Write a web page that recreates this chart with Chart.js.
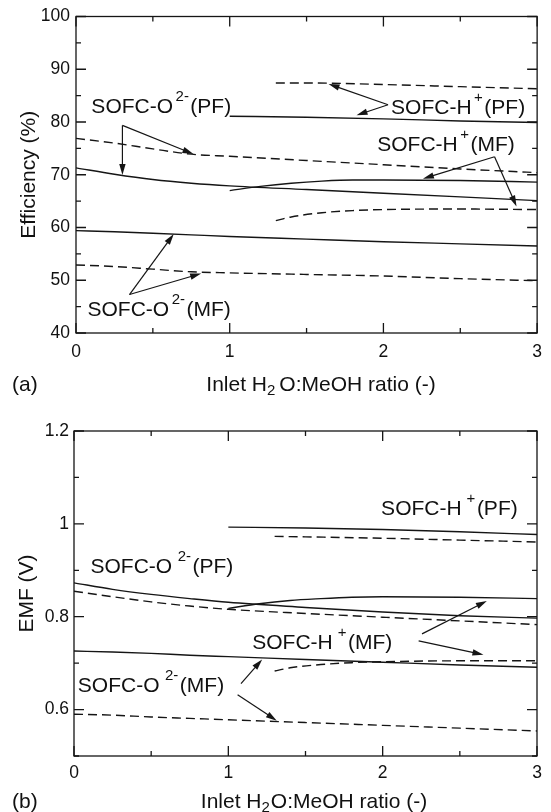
<!DOCTYPE html>
<html><head><meta charset="utf-8">
<script src="https://cdn.jsdelivr.net/npm/chart.js@4/dist/chart.umd.min.js"></script>
<style>
html,body{margin:0;padding:0;background:#fff;}
#wrap{position:relative;width:551px;height:812px;overflow:hidden;}
#ca{position:absolute;left:0;top:0;}
#cb{position:absolute;left:0;top:400px;}
</style></head><body>
<div id="wrap">
<canvas id="ca" width="551" height="400"></canvas>
<canvas id="cb" width="551" height="412"></canvas>
</div>
<script>
// ---------- DATA ----------
// x (Inlet H2O:MeOH ratio) grids
const xO2 = [0, 0.25, 0.5, 0.75, 1, 1.5, 2, 2.5, 3];
const xH_PF_solid = [1, 1.5, 2, 2.5, 3];
const xH_PF_dash = [1.3, 1.5, 2, 2.5, 3];
const xH_MF_solid = [1, 1.2, 1.4, 1.6, 1.8, 2, 2.5, 3];
const xH_MF_dash = [1.3, 1.4, 1.6, 1.8, 2, 2.5, 3];

// (a) Efficiency (%)
const effO2_PF_solid = [71.3, 70.1, 69.1, 68.4, 67.9, 67.2, 66.5, 65.8, 65.1];
const effO2_PF_dash  = [76.9, 76.0, 74.9, 73.9, 73.5, 72.7, 71.9, 71.1, 70.4];
const effO2_MF_solid = [59.4, 59.2, 58.9, 58.6, 58.3, 57.8, 57.3, 56.9, 56.5];
const effO2_MF_dash  = [52.9, 52.6, 52.1, 51.6, 51.4, 51.1, 50.8, 50.3, 49.9];
const effH_PF_solid  = [81.1, 80.9, 80.6, 80.2, 79.9];
const effH_PF_dash   = [87.4, 87.4, 87.1, 86.7, 86.3];
const effH_MF_solid  = [67.0, 67.8, 68.4, 68.8, 69.0, 69.0, 68.9, 68.6];
const effH_MF_dash   = [61.3, 62.0, 62.8, 63.2, 63.4, 63.5, 63.4];

// (b) EMF (V)
const emfO2_PF_solid = [0.873, 0.859, 0.848, 0.839, 0.831, 0.820, 0.810, 0.802, 0.797];
const emfO2_PF_dash  = [0.855, 0.843, 0.832, 0.823, 0.816, 0.807, 0.799, 0.791, 0.783];
const emfO2_MF_solid = [0.726, 0.724, 0.721, 0.717, 0.714, 0.708, 0.702, 0.696, 0.691];
const emfO2_MF_dash  = [0.590, 0.588, 0.584, 0.581, 0.578, 0.572, 0.566, 0.560, 0.554];
const emfH_PF_solid  = [0.993, 0.991, 0.988, 0.983, 0.977];
const emfH_PF_dash   = [0.973, 0.972, 0.969, 0.965, 0.961];
const emfH_MF_solid  = [0.818, 0.828, 0.835, 0.839, 0.842, 0.843, 0.842, 0.839];
const emfH_MF_dash   = [0.683, 0.690, 0.697, 0.701, 0.703, 0.705, 0.705];

// axis ranges / tick steps
const xRange = [0, 3], xStep = 0.5;
const effRange = [40, 100], effStep = 5;
const emfRange = [0.5, 1.2], emfStep = 0.1;

// annotation labels (positions in data units) and arrows
const annA = {
  labels: [
    {x: 0.10, y: 83.1, parts: [['SOFC-O'], [2.5], ['2-', 'sup'], [1.5], ['(PF)']]},
    {x: 2.05, y: 83.0, parts: [['SOFC-H'], [2.5], ['+', 'sup'], [1.5], ['(PF)']]},
    {x: 1.96, y: 76.0, parts: [['SOFC-H'], [2.5], ['+', 'sup'], [1.5], ['(MF)']]},
    {x: 0.075, y: 44.7, parts: [['SOFC-O'], [2.5], ['2-', 'sup'], [1.5], ['(MF)']]}
  ],
  arrows: [
    [[0.302, 79.35], [0.302, 69.95]], [[0.302, 79.35], [0.764, 73.92]],
    [[2.030, 83.28], [1.643, 87.21]], [[2.030, 83.28], [1.825, 81.28]],
    [[2.723, 73.42], [2.257, 69.25]], [[2.723, 73.42], [2.866, 64.0]],
    [[0.348, 47.29], [0.636, 58.76]], [[0.348, 47.29], [0.814, 51.28]]
  ]
};
const annB = {
  labels: [
    {x: 1.99, y: 1.035, parts: [['SOFC-H'], [5], ['+', 'sup'], [1.5], ['(PF)']]},
    {x: 0.107, y: 0.911, parts: [['SOFC-O'], [5.5], ['2-', 'sup'], [1.5], ['(PF)']]},
    {x: 1.155, y: 0.747, parts: [['SOFC-H'], [5], ['+', 'sup'], [1.5], ['(MF)']]},
    {x: 0.025, y: 0.654, parts: [['SOFC-O'], [5.5], ['2-', 'sup'], [1.5], ['(MF)']]}
  ],
  arrows: [
    [[2.255, 0.763], [2.675, 0.834]], [[2.233, 0.748], [2.653, 0.718]],
    [[1.082, 0.656], [1.219, 0.708]], [[1.060, 0.632], [1.314, 0.576]]
  ]
};

// ---------- STYLE ----------
const FONT = '"Liberation Sans", Arial, Helvetica, sans-serif';
const INK = '#151515';
const LINEW = 1.4;
const DASH = [9, 5];
const TXT = 21, SUP = 15, TICKF = 17.5;

function pts(xs, ys) { return xs.map((x, i) => ({x: x, y: ys[i]})); }
function ds(xs, ys, dashed) {
  return {
    data: pts(xs, ys), borderColor: INK, borderWidth: LINEW,
    borderDash: dashed ? DASH : [], pointRadius: 0, fill: false,
    cubicInterpolationMode: 'monotone', tension: 0.4
  };
}

function drawRich(ctx, x, yc, parts) {
  const base = yc + 0.358 * TXT;
  let cx = x;
  ctx.textAlign = 'left';
  ctx.textBaseline = 'alphabetic';
  for (const p of parts) {
    if (typeof p[0] === 'number') { cx += p[0]; continue; }
    if (p[1] === 'sup') {
      ctx.font = SUP + 'px ' + FONT;
      ctx.fillText(p[0], cx, base - 12);
    } else if (p[1] === 'sub') {
      ctx.font = SUP + 'px ' + FONT;
      ctx.fillText(p[0], cx, base + 4);
    } else {
      ctx.font = TXT + 'px ' + FONT;
      ctx.fillText(p[0], cx, base);
    }
    cx += ctx.measureText(p[0]).width;
  }
  return cx - x;
}
function richWidth(ctx, parts) {
  let w = 0;
  for (const p of parts) {
    if (typeof p[0] === 'number') { w += p[0]; continue; }
    ctx.font = (p[1] ? SUP : TXT) + 'px ' + FONT;
    w += ctx.measureText(p[0]).width;
  }
  return w;
}
function arrow(ctx, x1, y1, x2, y2) {
  const ang = Math.atan2(y2 - y1, x2 - x1);
  const L = 11, W = 3.2;
  ctx.beginPath(); ctx.moveTo(x1, y1);
  ctx.lineTo(x2 - Math.cos(ang) * L * 0.8, y2 - Math.sin(ang) * L * 0.8); ctx.stroke();
  ctx.beginPath();
  ctx.moveTo(x2, y2);
  ctx.lineTo(x2 - Math.cos(ang) * L - Math.sin(ang) * W, y2 - Math.sin(ang) * L + Math.cos(ang) * W);
  ctx.lineTo(x2 - Math.cos(ang) * L + Math.sin(ang) * W, y2 - Math.sin(ang) * L - Math.cos(ang) * W);
  ctx.closePath(); ctx.fill();
}

const decorPlugin = {
  id: 'decor',
  afterDatasetsDraw(chart, args, o) {
    const {ctx, chartArea: a, scales: {x, y}} = chart;
    ctx.save();
    ctx.strokeStyle = INK; ctx.fillStyle = INK; ctx.lineWidth = 1.3; ctx.setLineDash([]);
    // frame
    ctx.strokeRect(a.left, a.top, a.right - a.left, a.bottom - a.top);
    // inward ticks on all four sides
    ctx.beginPath();
    x.ticks.forEach(t => {
      const px = x.getPixelForValue(t.value), L = t.label ? 10 : 5;
      ctx.moveTo(px, a.bottom); ctx.lineTo(px, a.bottom - L);
      ctx.moveTo(px, a.top); ctx.lineTo(px, a.top + L);
    });
    y.ticks.forEach(t => {
      const py = y.getPixelForValue(t.value), L = t.label ? 10 : 5;
      ctx.moveTo(a.left, py); ctx.lineTo(a.left + L, py);
      ctx.moveTo(a.right, py); ctx.lineTo(a.right - L, py);
    });
    ctx.stroke();
    // annotations
    ctx.lineWidth = 1.2;
    o.ann.arrows.forEach(ar => {
      arrow(ctx, x.getPixelForValue(ar[0][0]), y.getPixelForValue(ar[0][1]),
                 x.getPixelForValue(ar[1][0]), y.getPixelForValue(ar[1][1]));
    });
    ctx.fillStyle = '#111';
    o.ann.labels.forEach(l => {
      drawRich(ctx, x.getPixelForValue(l.x), y.getPixelForValue(l.y), l.parts);
    });
    // x-axis title with subscript
    const tparts = o.xtitle;
    const w = richWidth(ctx, tparts);
    drawRich(ctx, o.xtitleCx - w / 2, o.xtitleY, tparts);
    // panel letter
    ctx.font = TXT + 'px ' + FONT; ctx.textAlign = 'left'; ctx.textBaseline = 'alphabetic';
    ctx.fillText(o.panel, 12, o.xtitleY + 0.358 * TXT);
    // y-axis title
    ctx.save();
    ctx.translate(o.ytitleX, (a.top + a.bottom) / 2);
    ctx.rotate(-Math.PI / 2);
    ctx.textAlign = 'center'; ctx.textBaseline = 'alphabetic';
    ctx.font = TXT + 'px ' + FONT;
    ctx.fillText(o.ytitle, 0, 0.358 * TXT);
    ctx.restore();
    ctx.restore();
  }
};

function makeChart(id, cfg) {
  return new Chart(document.getElementById(id), {
    type: 'line',
    data: {datasets: cfg.datasets},
    options: {
      responsive: false, animation: false, devicePixelRatio: 1,
      layout: {padding: cfg.padding},
      plugins: {legend: {display: false}, tooltip: {enabled: false}, decor: cfg.decor},
      scales: {
        x: {
          type: 'linear', min: xRange[0], max: xRange[1],
          grid: {display: false, drawTicks: false}, border: {display: false},
          ticks: {stepSize: xStep, autoSkip: false, maxRotation: 0, padding: cfg.xpad, color: '#111',
                  font: {family: FONT, size: TICKF},
                  callback: v => Math.abs(v - Math.round(v)) < 1e-6 ? String(Math.round(v)) : ''},
          afterFit: s => { s.height = cfg.xh; }
        },
        y: {
          type: 'linear', min: cfg.yr[0], max: cfg.yr[1],
          grid: {display: false, drawTicks: false}, border: {display: false},
          ticks: {stepSize: cfg.ystep, autoSkip: false, padding: cfg.ypad, color: '#111',
                  font: {family: FONT, size: TICKF}, callback: cfg.ycb},
          afterFit: s => { s.width = cfg.yw; }
        }
      }
    },
    plugins: [decorPlugin]
  });
}

const xTitleParts = (g) => [['Inlet H'], ['2', 'sub'], [g], ['O:MeOH ratio (-)']];

makeChart('ca', {
  datasets: [
    ds(xO2, effO2_PF_solid, false), ds(xO2, effO2_PF_dash, true),
    ds(xO2, effO2_MF_solid, false), ds(xO2, effO2_MF_dash, true),
    ds(xH_PF_solid, effH_PF_solid, false), ds(xH_PF_dash, effH_PF_dash, true),
    ds(xH_MF_solid, effH_MF_solid, false), ds(xH_MF_dash, effH_MF_dash, true)
  ],
  padding: {left: 0, right: 11, top: 12, bottom: 0},
  xh: 67, yw: 76, xpad: 9, ypad: 6,
  yr: effRange, ystep: effStep,
  ycb: v => (Math.round(v) % 10 === 0) ? String(Math.round(v)) : '',
  decor: {ann: annA, xtitle: xTitleParts(4), xtitleCx: 321, xtitleY: 383, panel: '(a)',
          ytitle: 'Efficiency (%)', ytitleX: 27}
});

makeChart('cb', {
  datasets: [
    ds(xO2, emfO2_PF_solid, false), ds(xO2, emfO2_PF_dash, true),
    ds(xO2, emfO2_MF_solid, false), ds(xO2, emfO2_MF_dash, true),
    ds(xH_PF_solid, emfH_PF_solid, false), ds(xH_PF_dash, emfH_PF_dash, true),
    ds(xH_MF_solid, emfH_MF_solid, false), ds(xH_MF_dash, emfH_MF_dash, true)
  ],
  padding: {left: 0, right: 14, top: 31, bottom: 0},
  xh: 56, yw: 74, xpad: 7, ypad: 5,
  yr: emfRange, ystep: emfStep,
  ycb: v => { const r = Math.round(v * 10); return (r % 2 === 0 && r >= 6) ? (r === 10 ? '1' : (r / 10).toFixed(1)) : ''; },
  decor: {ann: annB, xtitle: xTitleParts(1), xtitleCx: 314, xtitleY: 400, panel: '(b)',
          ytitle: 'EMF (V)', ytitleX: 25}
});
</script>
</body></html>
